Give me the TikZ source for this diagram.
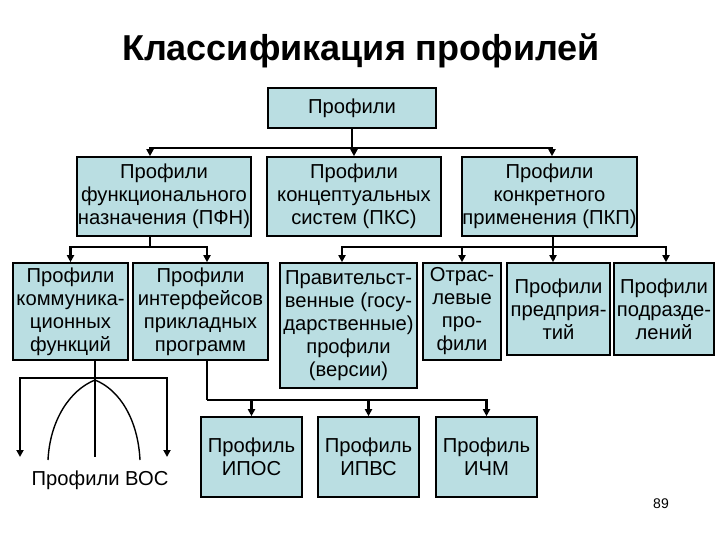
\documentclass[tikz,border=0pt]{standalone}
\usepackage{fontspec}
\setmainfont{Liberation Sans}
\usepackage{xcolor}
\usepackage{tikz}
\usetikzlibrary{calc, arrows.meta}
\definecolor{boxfill}{RGB}{186,222,226}
\newcommand{\boxfont}{\fontsize{20.2}{23}\selectfont}
\tikzset{pbox/.style={draw, line width=1.6pt, fill=boxfill, align=center, inner sep=0pt, font=\boxfont}}
\tikzset{link/.style={line width=2.2pt}}
\tikzset{arr/.style={link, ->}}

\begin{document}
\begin{tikzpicture}[x=1pt, y=-1pt, >={Stealth[length=7pt, width=7pt, inset=0pt]}]
  \useasboundingbox (0,0) rectangle (720,540);

  % Title
  \node[font=\bfseries\fontsize{36}{40}\selectfont, anchor=base] (title) at (361,61) {Классификация профилей};

  % Nodes
  \node[pbox, minimum width=168, minimum height=40] (top) at (352,108) {Профили};

  \node[pbox, minimum width=174, minimum height=79] (pfn) at (164,196.5)
    {Профили\\функционального\\назначения (ПФН)};
  \node[pbox, minimum width=174, minimum height=79] (pks) at (354,196.5)
    {Профили\\концептуальных\\систем (ПКС)};
  \node[pbox, minimum width=175, minimum height=79] (pkp) at (549.5,196.5)
    {Профили\\конкретного\\применения (ПКП)};

  \node[pbox, minimum width=115, minimum height=97] (komm) at (70.5,311.5)
    {Профили\\коммуника-\\ционных\\функций};
  \node[pbox, minimum width=135, minimum height=97] (intf) at (200.5,311.5)
    {Профили\\интерфейсов\\прикладных\\программ};
  \node[pbox, minimum width=137, minimum height=125] (prav) at (348.5,325.5)
    {Правительст-\\венные (госу-\\дарственные)\\профили\\(версии)};
  \node[pbox, minimum width=78, minimum height=97] (otr) at (462,311.5)
    {Отрас-\\левые\\про-\\фили};
  \node[pbox, minimum width=103, minimum height=92] (pred) at (558.5,309)
    {Профили\\предприя-\\тий};
  \node[pbox, minimum width=100, minimum height=92] (podr) at (664,309)
    {Профили\\подразде-\\лений};

  \node[pbox, minimum width=101, minimum height=80] (ipos) at (251.5,457) {Профиль\\ИПОС};
  \node[pbox, minimum width=101, minimum height=80] (ipvs) at (368.5,457) {Профиль\\ИПВС};
  \node[pbox, minimum width=101, minimum height=80] (ichm) at (486.5,457) {Профиль\\ИЧМ};

  \node[font=\boxfont, anchor=base] (vos) at (100,485) {Профили ВОС};
  \node[font=\fontsize{14}{16}\selectfont, anchor=base] (pagenum) at (661,508) {89};

  % Profiles -> level 2
  \coordinate (bus1) at (352,148);
  \draw[link] (top) -- (bus1);
  \draw[arr] (bus1) -| ([xshift=-14pt]pfn.north);
  \draw[arr] (bus1) -| (pks.north);
  \draw[arr] (bus1) -| ([xshift=2.5pt]pkp.north);

  % PFN -> level 3
  \coordinate (bus2) at (150,247);
  \draw[link] ([xshift=-14pt]pfn.south) -- (bus2);
  \draw[arr] (bus2) -| (komm.north);
  \draw[arr] (bus2) -| ([xshift=6.5pt]intf.north);

  % PKP -> level 3
  \coordinate (bus3) at (553,247);
  \draw[link] ([xshift=3.5pt]pkp.south) -- (bus3);
  \draw[arr] (bus3) -| ([xshift=-6.5pt]prav.north);
  \draw[arr] (bus3) -| (otr.north);
  \draw[arr] (bus3) -| ([xshift=-5.5pt]pred.north);
  \draw[arr] (bus3) -| ([xshift=2pt]podr.north);

  % OSI fan
  \coordinate (fan) at (95,378);
  \coordinate (vosl) at (20,457);
  \coordinate (vosr) at (167,457);
  \draw[link] ([xshift=24.5pt]komm.south) -- (fan) -- (fan |- vosl);
  \draw[arr] (fan) -| (vosl);
  \draw[arr] (fan) -| (vosr);
  \draw[line width=1.4pt] (48,460) .. controls (50,420) and (70,390) .. (95,380)
    .. controls (120,390) and (138,420) .. (140,460);

  % Interfaces -> bottom row
  \coordinate (bus4) at (207,400);
  \draw[link] ([xshift=6.5pt]intf.south) -- (bus4);
  \draw[arr] (bus4) -| (ipos.north);
  \draw[arr] (bus4) -| (ipvs.north);
  \draw[arr] (bus4) -| (ichm.north);
\end{tikzpicture}
\end{document}
